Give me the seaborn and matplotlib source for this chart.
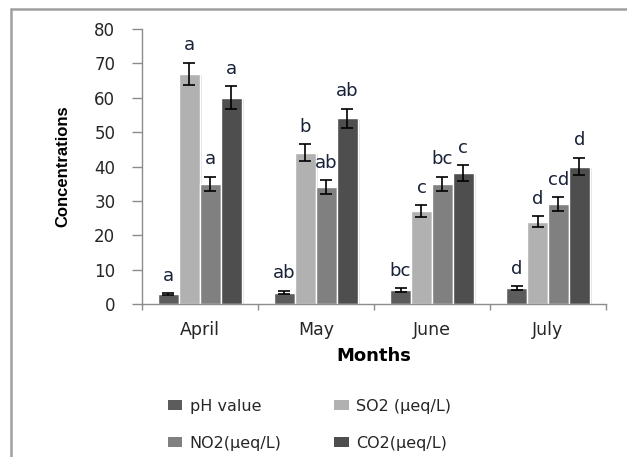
import matplotlib
matplotlib.use("Agg")
import matplotlib.pyplot as plt
import matplotlib.patheffects as pe
from matplotlib.lines import Line2D
from matplotlib.patches import Patch
from matplotlib.ticker import FixedLocator, NullFormatter
import seaborn as sns
import pandas as pd
from matplotlib import font_manager

# Monthly means and standard errors
months = ["April", "May", "June", "July"]
series = ["pH value", "SO2 (\u03bceq/L)", "NO2(\u03bceq/L)", "CO2(\u03bceq/L)"]
ph_vals = [2.8, 3.3, 4.0, 4.6]
so2_vals = [67, 44, 27, 24]
no2_vals = [35, 34, 35, 29]
co2_vals = [60, 54, 38, 40]
ph_err = [0.3, 0.5, 0.6, 0.5]
so2_err = [3.2, 2.5, 1.7, 1.5]
no2_err = [2.0, 2.0, 2.0, 2.0]
co2_err = [3.3, 2.8, 2.3, 2.5]
# Significance letters per month
ph_sig = ["a", "ab", "bc", "d"]
so2_sig = ["a", "b", "c", "d"]
no2_sig = ["a", "ab", "bc", "cd"]
co2_sig = ["a", "ab", "c", "d"]

colors = ["#5c5c5c", "#b1b1b1", "#808080", "#4e4e4e"]

values = [ph_vals, so2_vals, no2_vals, co2_vals]
errors = [ph_err, so2_err, no2_err, co2_err]
letters = [ph_sig, so2_sig, no2_sig, co2_sig]

rows = []
for s, vals in zip(series, values):
    for m, v in zip(months, vals):
        rows.append({"Month": m, "Series": s, "Value": v})
df = pd.DataFrame(rows)

sns.set_theme(style="white")
plt.rcParams["font.family"] = ["DejaVu Sans"]

available = {f.name for f in font_manager.fontManager.ttflist}
narrow = "Liberation Sans Narrow" if "Liberation Sans Narrow" in available else "Liberation Sans"

fig = plt.figure(figsize=(6.27, 4.57), dpi=100)
ax = fig.add_axes([0.226, 0.3348, 0.7405, 0.6017])

sns.barplot(data=df, x="Month", y="Value", hue="Series", order=months,
            hue_order=series, palette=colors, width=0.72, errorbar=None,
            edgecolor="white", linewidth=1.0, saturation=1, legend=False, ax=ax)

shadow = [pe.SimplePatchShadow(offset=(1.5, -1.0), shadow_rgbFace="0.75", alpha=0.45), pe.Normal()]
for cont, errs, labs in zip(ax.containers, errors, letters):
    for bar, e, lab in zip(cont, errs, labs):
        bar.set_path_effects(shadow)
        xc = bar.get_x() + bar.get_width() / 2
        h = bar.get_height()
        ax.errorbar(xc, h, yerr=e, fmt="none", ecolor="black", elinewidth=1.2,
                    capsize=4.5, capthick=1.2, zorder=4)
        ax.annotate(lab, (xc, h + e), xytext=(0, 9), textcoords="offset points",
                    ha="center", va="baseline", fontsize=13, color="#182238")

ax.set_xlim(-0.5, 3.5)
ax.set_ylim(0, 80)
ax.set_yticks(range(0, 81, 10))
ax.tick_params(axis="y", which="major", direction="out", length=7, width=1,
               color="#8c8c8c", pad=12, labelsize=12, labelcolor="#262626", left=True)
ax.xaxis.set_minor_locator(FixedLocator([-0.5, 0.5, 1.5, 2.5, 3.5]))
ax.xaxis.set_minor_formatter(NullFormatter())
ax.tick_params(axis="x", which="major", length=0, pad=12, labelsize=12.5, labelcolor="#262626")
ax.tick_params(axis="x", which="minor", direction="out", length=4.5, width=1,
               color="#8c8c8c", bottom=True)

for side in ["top", "right"]:
    ax.spines[side].set_visible(False)
for side in ["left", "bottom"]:
    ax.spines[side].set_color("#8c8c8c")
    ax.spines[side].set_linewidth(1.0)

ax.set_xlabel("Months", fontsize=13, fontweight="bold", color="black")
ax.xaxis.set_label_coords(0.5, -0.188)
ax.xaxis.label.set_verticalalignment("center")
ax.set_ylabel("Concentrations", fontsize=12, fontweight="bold", color="black",
              family=[narrow, "DejaVu Sans"])
ax.yaxis.set_label_coords(-0.1695, 0.5)
ax.yaxis.label.set_verticalalignment("center")

# Legend laid out row by row: pH / SO2 on top, NO2 / CO2 below
order = [0, 2, 1, 3]
handles = [Patch(facecolor=colors[i], edgecolor="none") for i in order]
labels = [series[i] for i in order]
fig.legend(handles, labels, ncol=2, loc="upper left", bbox_to_anchor=(0.268, 0.128),
           frameon=False, fontsize=11.5, handlelength=0.9, handleheight=0.6,
           handletextpad=0.45, columnspacing=3.3, labelspacing=1.4,
           borderpad=0, borderaxespad=0, labelcolor="#262626")

# Outer frame lines along the top and left edges
fig.add_artist(Line2D([11 / 627, 1.0], [1 - 9 / 457, 1 - 9 / 457], transform=fig.transFigure,
                      color="#a0a0a0", linewidth=1.8))
fig.add_artist(Line2D([11 / 627, 11 / 627], [0.0, 1 - 9 / 457], transform=fig.transFigure,
                      color="#a0a0a0", linewidth=1.8))

fig.savefig("out.png", dpi=100)
